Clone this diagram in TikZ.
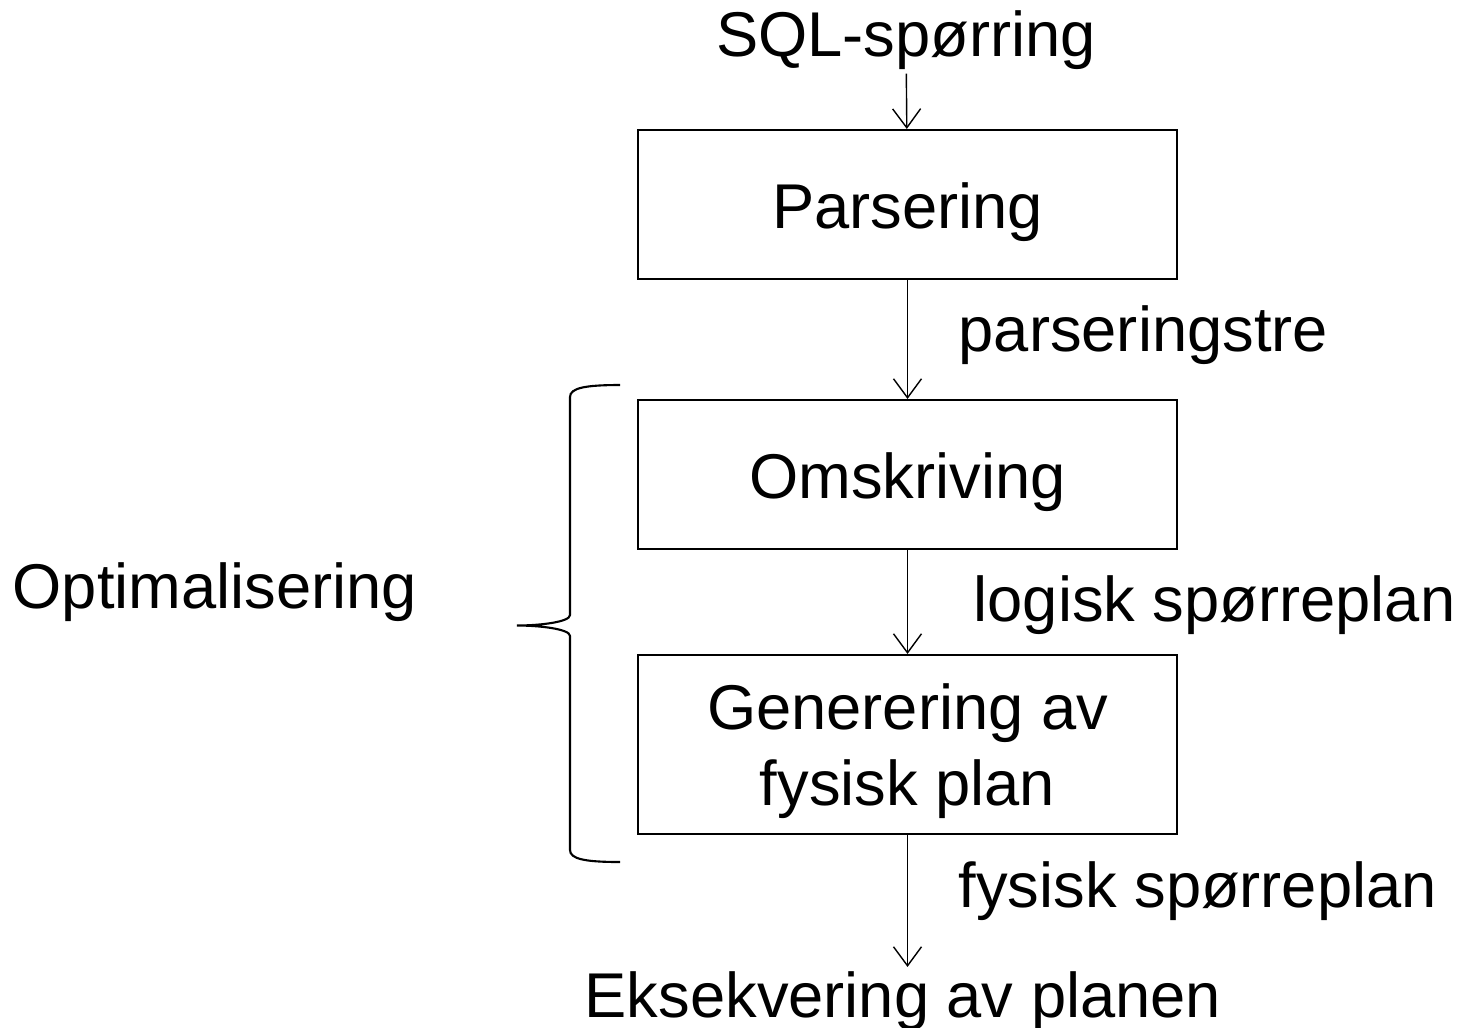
\documentclass[tikz,border=0pt]{standalone}
\usepackage{fontspec}
\setmainfont{Liberation Sans}
\usetikzlibrary{arrows.meta, positioning}
\tikzset{
  every picture/.style={font=\fontsize{18}{21.6}\selectfont},
  stage/.style={draw, line width=0.6pt, minimum width=5.39cm, align=center, inner sep=0pt},
  arrow/.style={-{Straight Barb[length=1.9mm, width=2.8mm]}, line width=0.4pt},
  lbl/.style={anchor=west, inner sep=0pt},
}
\newcommand{\down}[1]{\raisebox{-0.08cm}[\height][\depth]{#1}}
\begin{document}
\begin{tikzpicture}
  \useasboundingbox (0,0) rectangle (14.64,-10.27);
  \node[inner sep=1pt] (sql) at (9.06,-0.40) {SQL-spørring};
  \node[stage, minimum height=1.49cm] (parse) at (9.075,-2.045) {\down{Parsering}};
  \node[stage, minimum height=1.49cm] (rewrite) at (9.075,-4.745) {\down{Omskriving}};
  \node[stage, minimum height=1.79cm] (gen) at (9.075,-7.445)
    {\down{\begin{tabular}{@{}c@{}}Generering av\\fysisk plan\end{tabular}}};
  \node[anchor=base, inner sep=1pt] (exec) at (9.03,-10.17) {Eksekvering av planen};
  \draw[arrow] (sql) -- (parse);
  \draw[arrow] (parse) -- (rewrite);
  \draw[arrow] (rewrite) -- (gen);
  \draw[arrow] (gen) -- (gen |- exec.north);
  \node[lbl] (tree) at (9.58,-3.35) {parseringstre};
  \node[lbl] (lplan) at (9.73,-6.05) {logisk spørreplan};
  \node[lbl] (fplan) at (9.58,-8.91) {fysisk spørreplan};
  \node[lbl] (opt) at (0.12,-5.92) {Optimalisering};
  % brace round the two optimisation steps
  \coordinate (btop) at (6.20,-3.85);
  \coordinate (btip) at (5.17,-6.255);
  \coordinate (bbot) at (6.20,-8.62);
  \draw[line width=0.6pt] (btop) .. controls (5.85,-3.85) and (5.70,-3.88) .. (5.70,-3.97)
    -- (5.70,-6.15) .. controls (5.70,-6.22) and (5.40,-6.255) .. (btip)
    .. controls (5.40,-6.255) and (5.70,-6.29) .. (5.70,-6.36)
    -- (5.70,-8.50) .. controls (5.70,-8.59) and (5.85,-8.62) .. (bbot);
\end{tikzpicture}
\end{document}
